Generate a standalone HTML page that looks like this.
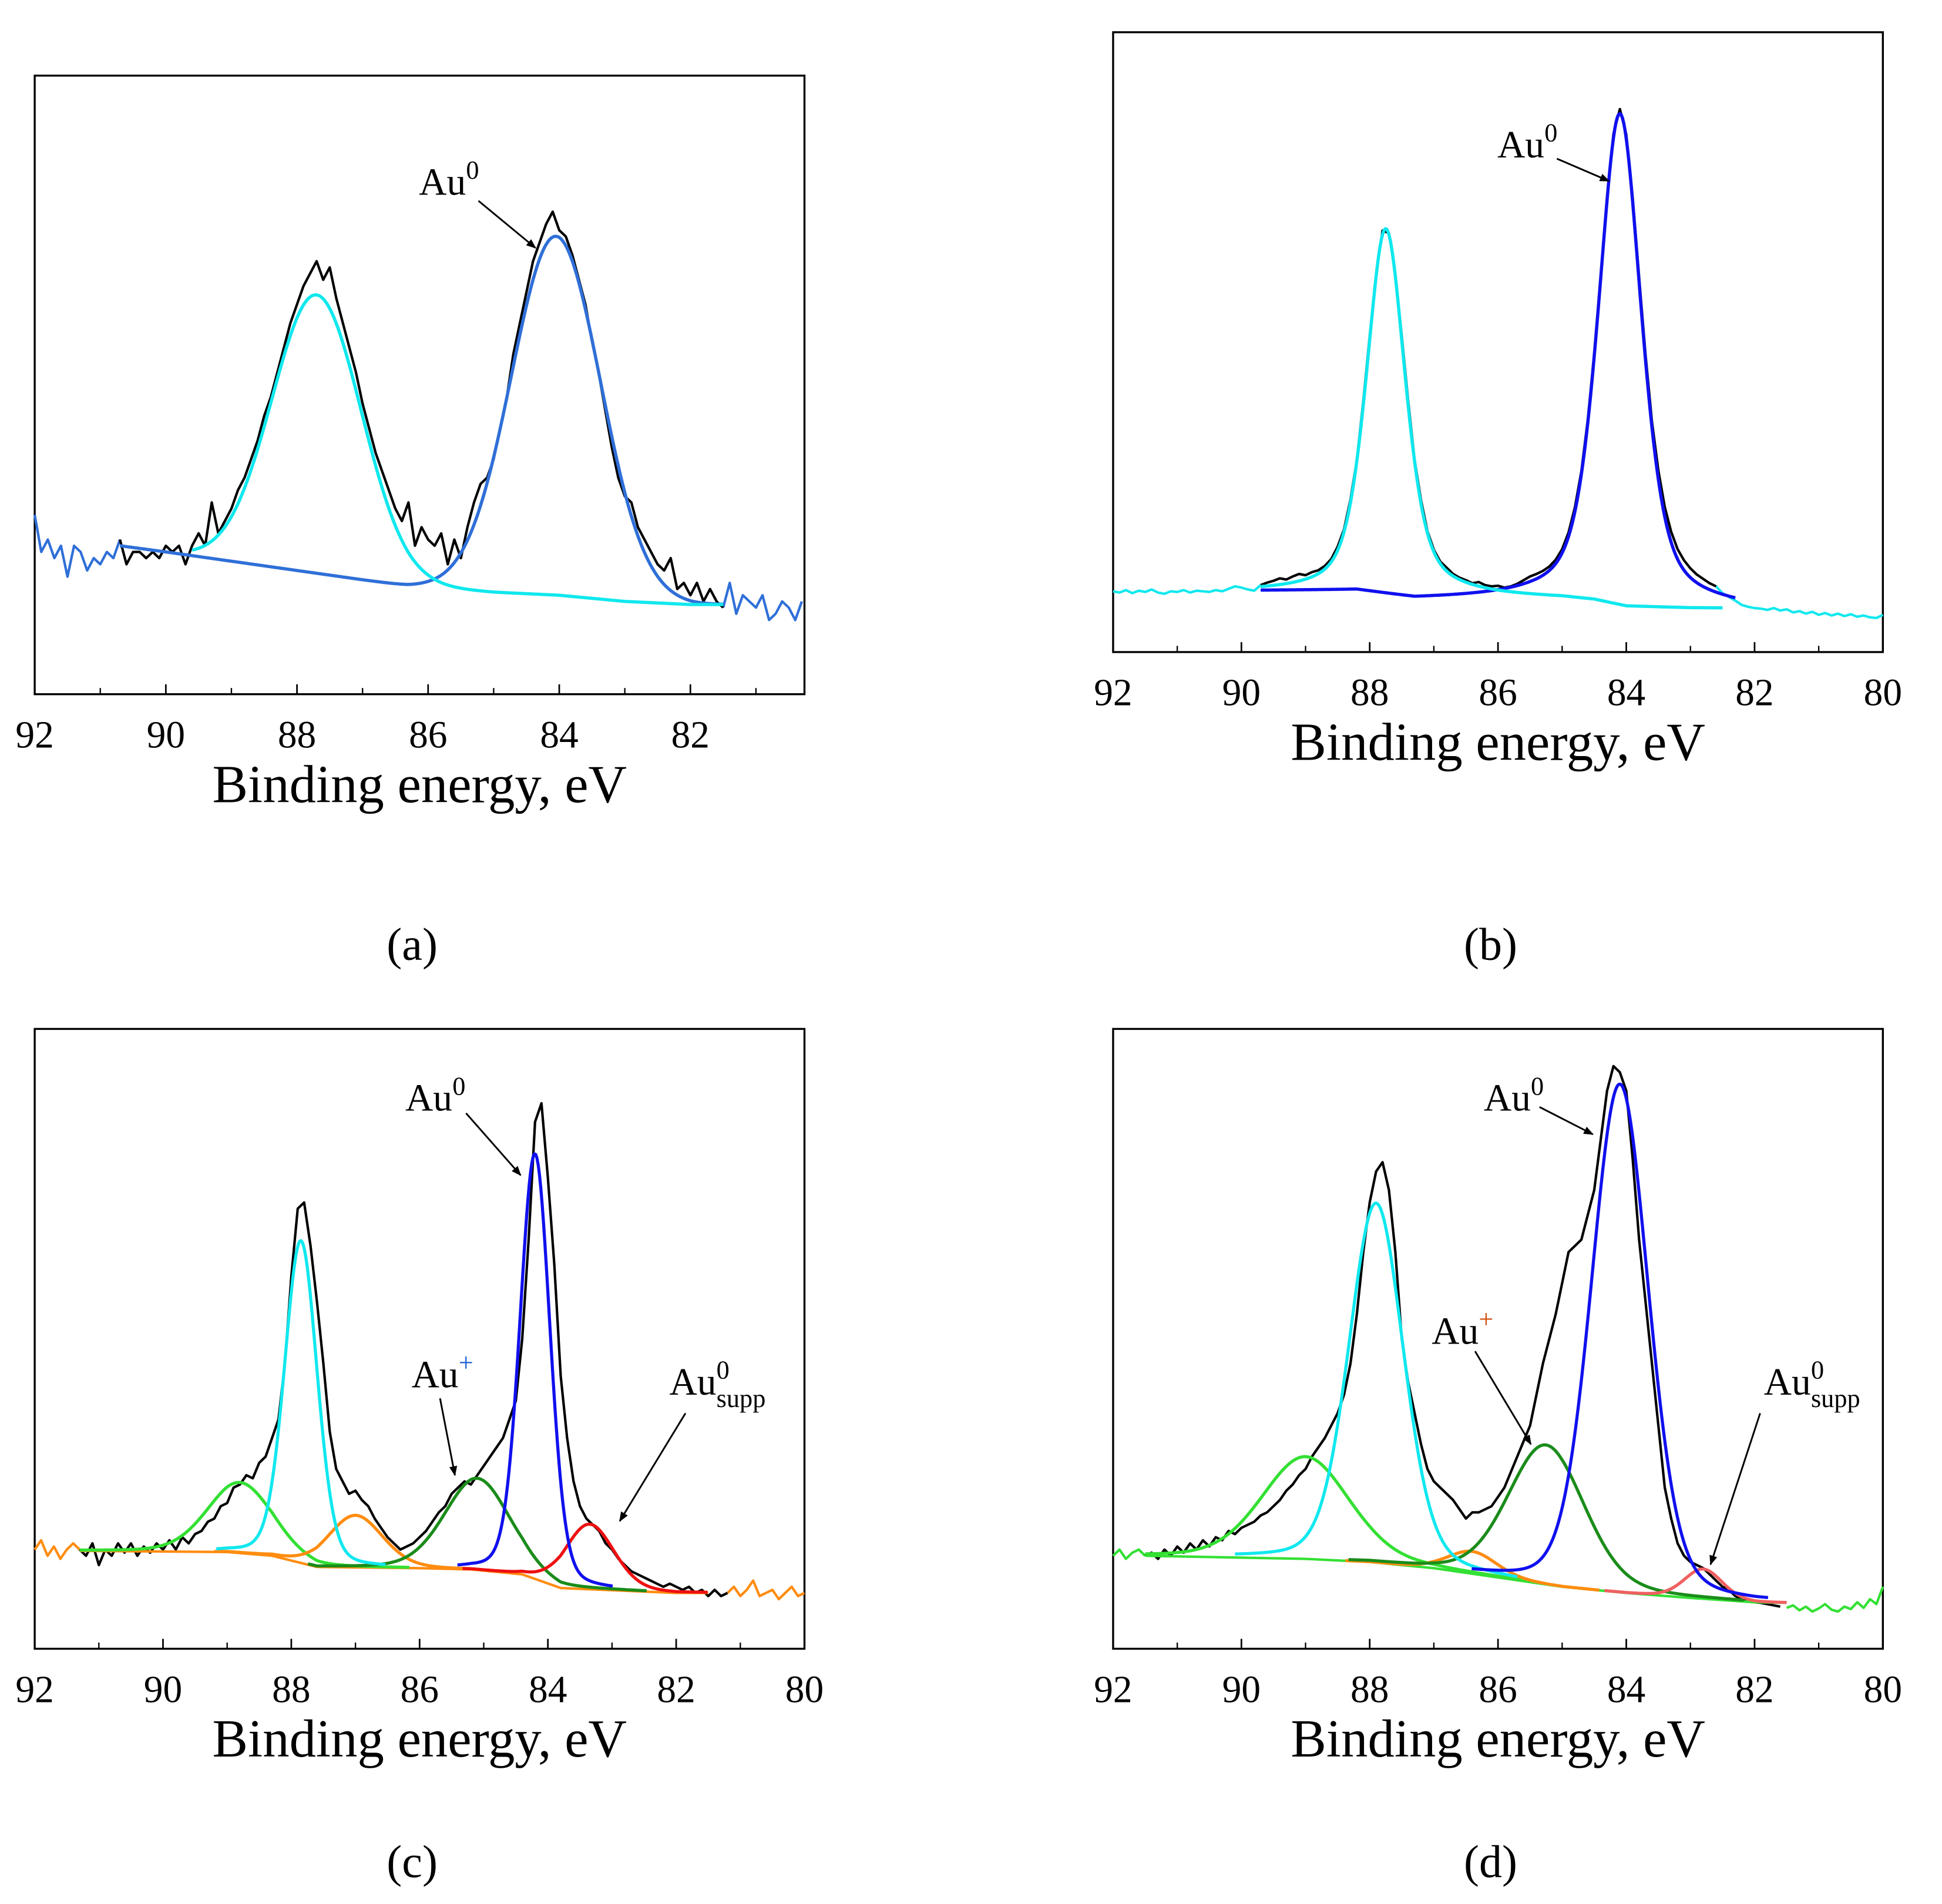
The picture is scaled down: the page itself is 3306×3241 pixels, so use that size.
<!DOCTYPE html>
<html><head><meta charset="utf-8">
<style>
html,body{margin:0;padding:0;background:#fff;}
svg{display:block;}
text{font-family:"Liberation Serif","DejaVu Serif",serif;fill:#000;}
</style></head>
<body>
<svg id="fig" width="3306" height="3241" viewBox="0 0 1566.7 1535.9" xmlns="http://www.w3.org/2000/svg">
<defs>
<marker id="arr" viewBox="0 0 10 10" refX="9" refY="5" markerWidth="8" markerHeight="8" orient="auto" markerUnits="userSpaceOnUse">
<path d="M0,1 L10,5 L0,9 Z" fill="#000"/>
</marker>
</defs>
<rect x="0" y="0" width="1566.7" height="1535.9" fill="#fff"/>
</svg>
<script>
// ---------- DATA ----------
// Panel (a): raw spectrum from 92.0 eV, step 0.1 eV
const aRawStart = 92.0;
const aRaw = [29,23,25,22,24,19,24,23,20,22,21,23,22,25,21,23,23,22,23,22,24,23,24,21,24,26,24,31,26,28,30,33,35,38,41,45,48,52,56,60,63,66,68,70,67,69,64,60,56,52,47,43,39,36,33,30,28,31,24,27,25,24,26,21,25,22,27,31,34,35,38,43,48,55,60,65,70,73,76,78,75,74,71,67,63,57,52,46,40,35,32,31,27,25,23,21,20,22,17,18,16,18,15,17,15,14,18,13,16,15,14,16,12,13,15,14,12,15];
const aCenters = [87.7, 84.05];
const aHeights = [45, 58];
const aWidths = [1.6, 1.6];
const aBgE = [90.7,90,89,88,87,86.3,86,85,84,83,82,81.5];
const aBgV = [24,23,21.5,20,18.5,17.5,17.3,16.5,16,15,14.5,14.5];

// Panel (b)
const bRawStart = 92.0;
const bRaw = [9.8,9.6,10,9.5,9.9,9.7,10.1,9.6,9.4,9.8,9.7,10,9.6,9.9,9.8,9.7,10,9.8,10.2,10.6,10.4,10.1,9.9,
10.8,11.2,11.5,11.9,11.7,12.2,12.6,12.4,12.9,13.2,13.9,15,17,19.8,24.6,31,40.5,51,61,68,67.6,61,51,40.5,31,24.5,19.5,16.5,14.6,13.6,12.6,12,11.6,11.1,11.3,10.8,10.6,10.7,10.4,10.6,11,11.6,12.2,12.6,13.1,13.8,14.9,16.6,19.3,23.4,29.2,37.5,48.2,60.6,73.4,83.6,87.6,83.5,73.3,60.5,48,37.2,29.3,23.4,19.4,16.6,14.8,13.5,12.5,11.8,11.1,10.6,
9.5,8.9,8.3,7.6,7.3,7.1,7.0,6.8,7.1,6.7,6.9,6.4,6.6,6.2,6.5,6.0,6.3,5.9,6.2,5.8,6.1,5.7,5.9,5.6,5.5,6.0];
const bCenters = [87.75, 84.1];
const bHeights = [59, 79];
const bWidths = [0.72, 0.8];
const bBgBlueE = [89.7,88.2,87.3,85.5,84.5,83.5,82.5,82.3];
const bBgBlueV = [9.8,9.8,8.4,8.4,8.2,7.4,7,6.9];
const bBgCyanE = [89.7,87,86,85,84.5,84,83,82.5];
const bBgCyanV = [9.6,9.2,8.8,8.6,8.2,7.2,7,7];

// Panel (c)
const cRawStart = 91.3;
const cRaw = [16,15,17,13.5,16,15,17,15.5,17,15,16.5,15.5,17,16,17.5,16,18,17,18.5,19,20.5,21,23,23.5,26,26.5,28,27.5,30,31,34,37,46,60,71,72,65,56,46,35,29,27,25,25.5,24,23,21,19.5,18,17,16,16.5,17,18,19,20.5,22,23,25,26,27,26.5,28,29.5,31,32.5,34,37,40,50,66,85,88,76,62,44,34,27,23,21,20,19,17,16,14.5,13.5,12.5,12,11.5,11,10.5,10,10.5,10,9.5,10,9,9.5,8.5,9.5,8.5,9];
const cLeftEdge = [16,17.5,15,16.5,14.5,16,17,16];
const cRightEdge = [9,10,8.5,9.5,11,8.5,9,9.5,8,9,10,8.5,9];
const cCenters = [88.8, 87.85, 87.0, 85.1, 84.2, 83.35];
const cHeights = [11.4, 52, 8.4, 14.8, 68.6, 10.5];
const cWidths = [1.2, 0.6, 1.0, 1.2, 0.55, 0.9];
const cBgE = [91.3,89,88.3,87.6,86,85.2,84.4,83.8,82,81.5];
const cBgV = [15.8,15.6,15,13.2,13,12.8,12,9.8,9,9];

// Panel (d)
const dRawStart = 91.5;
const dRaw = [15,15.5,14.5,16,15,16.5,15.5,17,16,17.5,16.5,18,17.5,19,18.5,19.5,20,20.5,21.5,22,23,24,25.5,26.5,28,29,31,32.5,34,36,38,41,46,54,64,72,77,78.5,74,64,50,43,38,33,29,27,26,25,24,22.5,21,22,22,22.5,23,24.5,26,28.5,31,33.5,36,41,46,50,54,59,64,65,66,70,74,82,90,94,93,90,79,66,56,46,36,26,21,17,15,14,13.5,13,12,11,10,9.5,8.5,8,8,7.5,7.4,7.2,7,6.8];
const dLeftEdge = [15,16,14.5,15.5,16,15];
const dRightEdge = [6.6,7,6.2,6.8,6,6.5,7.2,6.3,6,6.8,6.4,7.5,6.6,8,7.2,10];
const dCenters = [89.0, 87.9, 86.4, 85.25, 84.1, 82.8];
const dHeights = [16.5, 58, 3.6, 22.5, 82, 4.8];
const dWidths = [1.6, 1.0, 0.9, 1.4, 1.05, 0.7];
const dBgE = [91.5,90.5,89,88,87,86,85,84,83,82,81.5];
const dBgV = [15,14.8,14.5,14,13,11.5,10,9,8.2,7.5,7.4];

const tickMajor = [92,90,88,86,84,82,80];
const tickMinor = [91,89,87,85,83,81];

// ---------- DRAWING ----------
const NS = "http://www.w3.org/2000/svg";
const svg = document.getElementById('fig');
function el(tag, attrs, parent){
  const e = document.createElementNS(NS, tag);
  for (const k in attrs) e.setAttribute(k, attrs[k]);
  (parent||svg).appendChild(e);
  return e;
}
function pv(E,c,h,w,eta){const d=E-c;const G=Math.exp(-4*Math.LN2*d*d/(w*w));const L=1/(1+4*d*d/(w*w));return h*((1-eta)*G+eta*L);}
function interp(E, xs, vs){
  if (E >= xs[0]) return vs[0];
  for (let i=1;i<xs.length;i++){ if (E >= xs[i]){ const t=(xs[i-1]-E)/(xs[i-1]-xs[i]); return vs[i-1]+t*(vs[i]-vs[i-1]); } }
  return vs[vs.length-1];
}
function makeAxes(P){
  P.sx = E => P.x0 + (92-E)/(92-P.xmin)*(P.x1-P.x0);
  P.sy = v => P.y1 - v/100*(P.y1-P.y0);
}
function pathFrom(P, pts){
  return pts.map((p,i)=>(i?'L':'M')+P.sx(p[0]).toFixed(2)+','+P.sy(p[1]).toFixed(2)).join(' ');
}
function line(P, g, pts, color, w, name){
  const p = el('path', {d:pathFrom(P,pts), fill:'none', stroke:color, 'stroke-width':w, 'stroke-linejoin':'round'}, g);
  
  
  return p;
}
function rawPts(start, arr){ return arr.map((v,i)=>[start-0.1*i, v]); }
function compPts(P, c, h, w, eta, bgE, bgV, from, to){
  const pts=[];
  for (let E=from; E>=to-1e-9; E-=0.02) pts.push([E, interp(E,bgE,bgV)+pv(E,c,h,w,eta)]);
  return pts;
}
function frame(P, name, letter, lettery){
  const g = el('g', {});
  
  
  P.g = g;
  const r = el('rect', {x:P.x0, y:P.y0, width:P.x1-P.x0, height:P.y1-P.y0, fill:'none', stroke:'#000', 'stroke-width':1.6}, g);
  
  
  tickMajor.forEach(t=>{
    if (t < P.xmin) return;
    const x = P.sx(t);
    const tk = el('line', {x1:x, x2:x, y1:P.y1, y2:P.y1-8, stroke:'#000', 'stroke-width':1.3}, g);
    
    
    const tx = el('text', {x:x, y:P.y1+43, 'font-size':31, 'text-anchor':'middle'}, g);
    tx.textContent = String(t);
    
    
  });
  tickMinor.forEach(t=>{
    if (t < P.xmin) return;
    const x = P.sx(t);
    const tk = el('line', {x1:x, x2:x, y1:P.y1, y2:P.y1-5, stroke:'#000', 'stroke-width':1.1}, g);
    
    
  });
  const tt = el('text', {x:(P.x0+P.x1)/2, y:P.y1+87, 'font-size':43, 'text-anchor':'middle'}, g);
  tt.textContent = 'Binding energy, eV';
  
  
  const pl = el('text', {x:(P.x0+P.x1)/2-6, y:lettery, 'font-size':37, 'text-anchor':'middle'}, svg);
  pl.textContent = letter;
  
  
}
function label(g, x, y, sup, sub, supColor, name){
  const t = el('text', {x:x, y:y, 'font-size':31}, g);
  
  
  const a = el('tspan', {}, t); a.textContent='Au';
  const s = el('tspan', {x:x+38, dy:-13, 'font-size':21, fill:supColor||'#000'}, t); s.textContent=sup;
  if (sub){ const b = el('tspan', {x:x+38, dy:23, 'font-size':21}, t); b.textContent=sub; }
}
function arrow(g, x1,y1,x2,y2){
  const l = el('line', {x1:x1,y1:y1,x2:x2,y2:y2, stroke:'#000','stroke-width':1.4,'marker-end':'url(#arr)'}, g);
  
  
}
function splitRaw(P, g, pts, lo, hi, inColor, outColor){
  const left = pts.filter(p=>p[0]>=hi-1e-9);
  const mid = pts.filter(p=>p[0]<=hi+1e-9 && p[0]>=lo-1e-9);
  const right = pts.filter(p=>p[0]<=lo+1e-9);
  line(P,g,left,outColor,2,'raw-spectrum-edge');
  line(P,g,right,outColor,2,'raw-spectrum-edge');
  line(P,g,mid,inColor,2,'raw-spectrum');
}

// Panel A
const PA = {x0:28, x1:649, y0:61, y1:560, xmin:80.26};
makeAxes(PA); frame(PA, 'panel-a', '(a)', 774);
splitRaw(PA, PA.g, rawPts(aRawStart, aRaw), 81.5, 90.7, '#000', '#2f6fd8');
line(PA, PA.g, compPts(PA,aCenters[1],aHeights[1],aWidths[1],0,aBgE,aBgV,90.7,81.5), '#2f6fd8', 2.6, 'fit-au0-4f72');
line(PA, PA.g, compPts(PA,aCenters[0],aHeights[0],aWidths[0],0,aBgE,aBgV,89.6,81.5), '#10e8ee', 2.6, 'fit-au0-4f52');
label(PA.g, 338, 157, '0', null, null, 'label-au0');
arrow(PA.g, 386, 162, 432, 200);

// Panel B
const PB = {x0:898, x1:1519, y0:26, y1:526, xmin:80};
makeAxes(PB); frame(PB, 'panel-b', '(b)', 774);
splitRaw(PB, PB.g, rawPts(bRawStart, bRaw), 82.6, 89.7, '#000', '#10e8ee');
line(PB, PB.g, compPts(PB,bCenters[1],bHeights[1],bWidths[1],0.5,bBgBlueE,bBgBlueV,89.7,82.3), '#1010ee', 2.6, 'fit-au0-4f72');
line(PB, PB.g, compPts(PB,bCenters[0],bHeights[0],bWidths[0],0.5,bBgCyanE,bBgCyanV,89.7,82.5), '#10e8ee', 2.6, 'fit-au0-4f52');
label(PB.g, 1208, 127, '0', null, null, 'label-au0');
arrow(PB.g, 1256, 128, 1298, 146);

const compColors = ['#33e033','#10e8ee','#ff8c10','#1a8c1a','#1010ee','#ee1010'];
const compNames = ['fit-au-plus-4f52','fit-au0-4f52','fit-au0supp-4f52','fit-au-plus-4f72','fit-au0-4f72','fit-au0supp-4f72'];
const drawOrder = [0,2,3,5,1,4];

// Panel C
const PC = {x0:28, x1:649, y0:830, y1:1330, xmin:80};
makeAxes(PC); frame(PC, 'panel-c', '(c)', 1514);
line(PC, PC.g, rawPts(92, cLeftEdge), '#ff8c10', 2, 'raw-spectrum-edge');
line(PC, PC.g, rawPts(81.2, cRightEdge), '#ff8c10', 2, 'raw-spectrum-edge');
line(PC, PC.g, rawPts(cRawStart, cRaw), '#000', 2, 'raw-spectrum');
line(PC, PC.g, compPts(PC,88,0,1,0,cBgE,cBgV,91.3,81.5), '#ff8c10', 2, 'background');
drawOrder.forEach(i=>{
  const c=cCenters[i], w=cWidths[i];
  line(PC, PC.g, compPts(PC,c,cHeights[i],w,0.2,cBgE,cBgV,Math.min(91.3,c+2.2*w),Math.max(81.5,c-2.2*w)), compColors[i], 2.5, compNames[i]);
});
label(PC.g, 327, 896, '0', null, null, 'label-au0');
arrow(PC.g, 376, 898, 420, 948);
label(PC.g, 332, 1119, '+', null, '#1a5fd0', 'label-au-plus');
arrow(PC.g, 355, 1128, 367, 1190);
label(PC.g, 540, 1125, '0', 'supp', null, 'label-au0-supp');
arrow(PC.g, 553, 1140, 500, 1227);

// Panel D
const PD = {x0:898, x1:1519, y0:830, y1:1330, xmin:80};
makeAxes(PD); frame(PD, 'panel-d', '(d)', 1514);
line(PD, PD.g, rawPts(92, dLeftEdge), '#33e033', 2, 'raw-spectrum-edge');
line(PD, PD.g, rawPts(81.5, dRightEdge), '#33e033', 2, 'raw-spectrum-edge');
line(PD, PD.g, rawPts(dRawStart, dRaw), '#000', 2, 'raw-spectrum');
line(PD, PD.g, compPts(PD,88,0,1,0,dBgE,dBgV,91.5,81.5), '#33e033', 2, 'background');
const dColors = ['#33e033','#10e8ee','#ff8c10','#1a8c1a','#1010ee','#f06060'];
drawOrder.forEach(i=>{
  const c=dCenters[i], w=dWidths[i];
  line(PD, PD.g, compPts(PD,c,dHeights[i],w,0.2,dBgE,dBgV,Math.min(91.5,c+2.2*w),Math.max(81.5,c-2.2*w)), dColors[i], 2.5, compNames[i]);
});
label(PD.g, 1197, 896, '0', null, null, 'label-au0');
arrow(PD.g, 1242, 893, 1285, 915);
label(PD.g, 1155, 1084, '+', null, '#d05010', 'label-au-plus');
arrow(PD.g, 1190, 1090, 1235, 1165);
label(PD.g, 1423, 1125, '0', 'supp', null, 'label-au0-supp');
arrow(PD.g, 1420, 1140, 1380, 1262);
</script>
</body></html>
